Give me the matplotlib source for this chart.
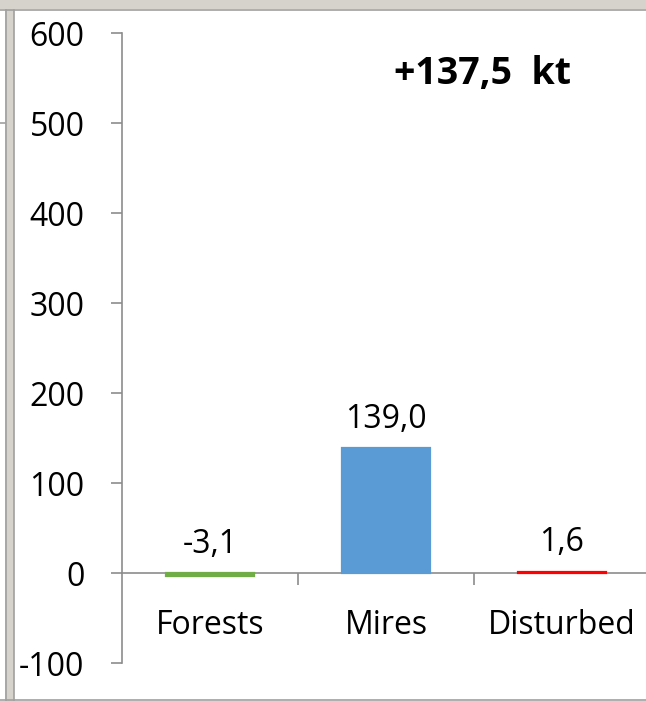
import matplotlib
matplotlib.use("Agg")
import matplotlib.pyplot as plt
from matplotlib.patches import Rectangle
from matplotlib.lines import Line2D

categories = ["Forests", "Mires", "Disturbed"]
values = [-3.1, 139.0, 1.6]
bar_colors = ["#70AD47", "#5B9BD5", "#FF0000"]
value_labels = ["-3,1", "139,0", "1,6"]
total_label = "+137,5  kt"
y_ticks = [-100, 0, 100, 200, 300, 400, 500, 600]

W, H = 646, 701
plt.rcParams["font.family"] = ["Open Sans", "DejaVu Sans"]
fig = plt.figure(figsize=(W / 100, H / 100), dpi=100)
fig.patch.set_facecolor("white")


def fx(px):
    return px / W


def fy(py):
    return 1 - py / H


# window frame around the chart area
frame_gray = "#d6d3cd"
edge_gray = "#a0a0a0"
fig.patches.append(Rectangle((0, fy(9)), 1, fy(0) - fy(9), transform=fig.transFigure,
                             facecolor=frame_gray, edgecolor="none", zorder=0))
fig.patches.append(Rectangle((fx(5), 0), fx(14) - fx(5), fy(9), transform=fig.transFigure,
                             facecolor=frame_gray, edgecolor="none", zorder=0))
for (x0, y0, x1, y1) in [(0, 9.5, W, 9.5), (5.5, 9.5, 5.5, H), (14, 9.5, 14, H),
                         (0, 699.5, W, 699.5), (0, 123, 5, 123)]:
    fig.lines.append(Line2D([fx(x0), fx(x1)], [fy(y0), fy(y1)], transform=fig.transFigure,
                            color=edge_gray, lw=1.2, zorder=1))

# plot area: 600 at y=33 px, -100 at y=663 px; categories span x 122..650 px
ax = fig.add_axes([fx(122), fy(663), fx(650) - fx(122), fy(33) - fy(663)])
ax.set_facecolor("none")

axis_gray = "#8c8c8c"
x = list(range(len(categories)))
ax.bar(x, values, width=0.5, color=bar_colors, edgecolor=bar_colors, linewidth=1.6, zorder=2)

ax.set_xlim(-0.5, len(categories) - 0.5)
ax.set_ylim(-100, 600)
ax.set_yticks(y_ticks)
ax.set_yticklabels([str(v) for v in y_ticks])

for s in ["top", "right"]:
    ax.spines[s].set_visible(False)
ax.spines["left"].set_color(axis_gray)
ax.spines["left"].set_linewidth(1.2)
ax.spines["bottom"].set_position(("data", 0))
ax.spines["bottom"].set_color(axis_gray)
ax.spines["bottom"].set_linewidth(1.2)
ax.spines["bottom"].set_zorder(1)

text_size = 23
ax.tick_params(axis="y", direction="out", length=8, width=1.2, color=axis_gray,
               pad=19, labelsize=text_size, labelcolor="black")
ax.set_xticks(x)
ax.set_xticklabels(categories)
ax.set_xticks([0.5, 1.5], minor=True)
ax.tick_params(axis="x", which="major", length=0, pad=26, labelsize=text_size, labelcolor="black")
ax.tick_params(axis="x", which="minor", direction="out", length=8.6, width=1.2, color=axis_gray)

for xi, v, lab in zip(x, values, value_labels):
    ax.annotate(lab, (xi, max(v, 0)), xytext=(0, 14.5), textcoords="offset points",
                ha="center", va="baseline", fontsize=text_size, color="black")

fig.text(fx(483), fy(74), total_label, ha="center", va="center",
         fontsize=27, fontweight="bold", color="black")

fig.savefig("out.png", dpi=100, facecolor="white")
